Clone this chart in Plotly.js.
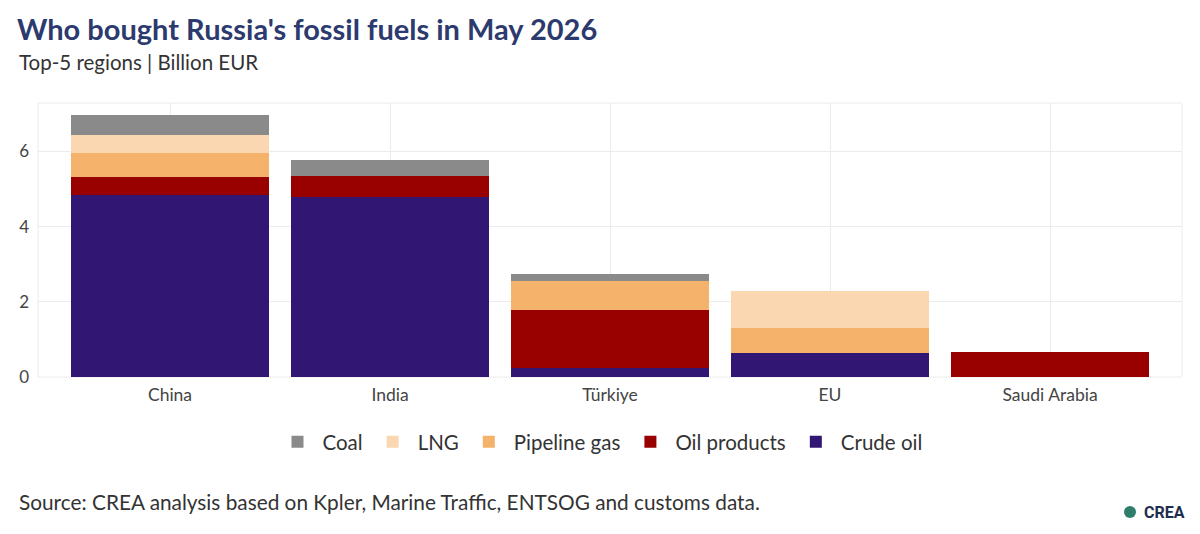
<!DOCTYPE html>
<html>
<head>
<meta charset="utf-8">
<script src="https://cdn.plot.ly/plotly-3.0.1.min.js"></script>
<style>html,body{margin:0;padding:0;background:#fff;}#chart{width:1200px;height:534px;}</style>
</head>
<body>
<div id="chart"></div>
<script>
const regions = ["China", "India", "Türkiye", "EU", "Saudi Arabia"];
const crudeOil = [4.83, 4.80, 0.25, 0.65, 0];
const oilProducts = [0.49, 0.56, 1.53, 0, 0.66];
const pipelineGas = [0.63, 0, 0.78, 0.65, 0];
const lng = [0.50, 0, 0, 0.98, 0];
const coal = [0.52, 0.42, 0.18, 0, 0];

const seriesNames = ["Crude oil", "Oil products", "Pipeline gas", "LNG", "Coal"];
const seriesValues = [crudeOil, oilProducts, pipelineGas, lng, coal];
const seriesColors = ["#321673", "#990000", "#f5b26b", "#fad6b1", "#8a8a8a"];

const font = "Lato, 'Source Sans Pro', 'Noto Sans', sans-serif";

const traces = seriesNames.map((n, i) => ({
  type: "bar",
  name: n,
  x: regions,
  y: seriesValues[i],
  marker: {color: seriesColors[i], line: {width: 0}},
  hoverinfo: "x+y+name"
}));

const W = 1200, H = 534;
const L = 38, R = 18, T = 103, B = 157;
const pw = W - L - R, ph = H - T - B;
const px = (x) => (x - L) / pw;
const py = (y) => (H - B - y) / ph;

const layout = {
  width: W, height: H,
  paper_bgcolor: "#fff", plot_bgcolor: "#fff",
  font: {family: font, color: "#444"},
  barmode: "stack",
  bargap: 0.1,
  margin: {l: L, r: R, t: T, b: B},
  title: {
    text: "<b>Who bought Russia's fossil fuels in May 2026</b>",
    x: 17/W, xanchor: "left", xref: "container",
    y: 1 - 30/H, yanchor: "middle", yref: "container",
    font: {family: font, size: 29, color: "#2c3a6e"}
  },
  xaxis: {
    type: "category",
    range: [-0.6, 4.6],
    showgrid: true, gridcolor: "#ebebeb", gridwidth: 1,
    zeroline: false, showline: false,
    ticks: "", tickfont: {size: 17.5, color: "#444"},
    ticklabelstandoff: 5
  },
  yaxis: {
    range: [0, 7.29],
    tickvals: [0, 2, 4, 6],
    showgrid: true, gridcolor: "#ebebeb", gridwidth: 1,
    zeroline: false, showline: false,
    ticks: "", tickfont: {size: 17, color: "#444"},
    ticklabelstandoff: 8
  },
  legend: {
    orientation: "h", traceorder: "reversed",
    x: 0.5, xanchor: "center", xref: "container",
    y: 1 - 442/H, yref: "container", yanchor: "middle",
    font: {size: 20.5, color: "#333"},
    itemwidth: 40, itemsizing: "constant"
  },
  annotations: [
    {text: "Top-5 regions | Billion EUR", xref: "paper", yref: "paper",
     x: px(17), xanchor: "left", y: py(62), yanchor: "middle",
     showarrow: false, font: {size: 20.5, color: "#333"}},
    {text: "Source: CREA analysis based on Kpler, Marine Traffic, ENTSOG and customs data.",
     xref: "paper", yref: "paper", x: px(17), xanchor: "left",
     y: py(501), yanchor: "middle", showarrow: false,
     font: {size: 20.8, color: "#333"}},
    {text: "<b>CREA</b>", xref: "paper", yref: "paper",
     x: px(1187), xanchor: "right", y: py(512), yanchor: "middle",
     showarrow: false, font: {family: "Roboto, sans-serif", size: 16, color: "#1d2d4e"}}
  ],
  shapes: [
    {type: "rect", xref: "paper", yref: "paper", x0: 0, x1: 1, y0: 0, y1: 1,
     line: {color: "#ececec", width: 1}, fillcolor: "rgba(0,0,0,0)", layer: "below"},
    {type: "circle", xref: "paper", yref: "paper",
     x0: px(1124), x1: px(1136), y0: py(518), y1: py(506),
     fillcolor: "#2f7d6b", line: {width: 0}}
  ],
  showlegend: true
};

Plotly.newPlot("chart", traces, layout, {displayModeBar: false, staticPlot: true});
</script>
</body>
</html>
